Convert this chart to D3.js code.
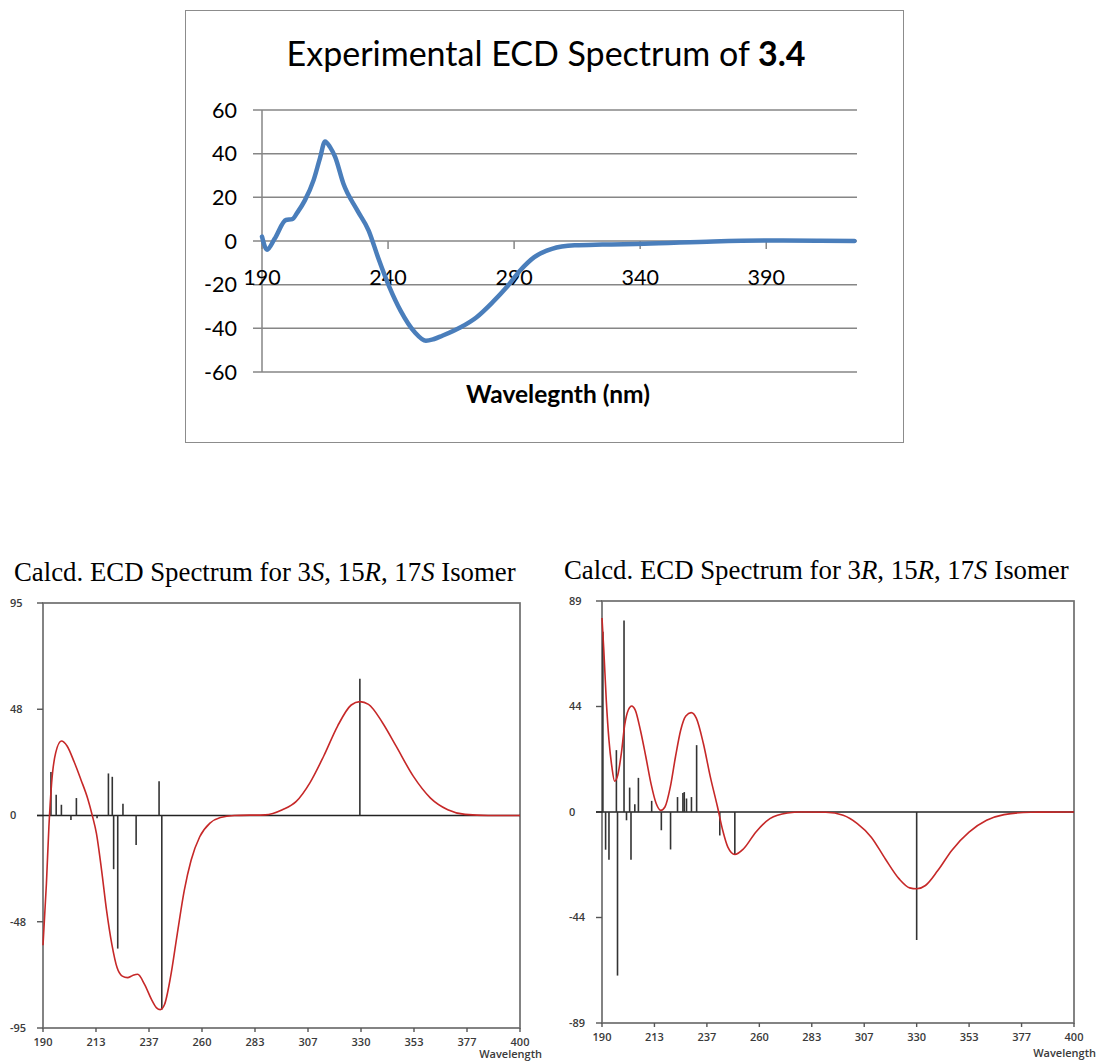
<!DOCTYPE html>
<html>
<head>
<meta charset="utf-8">
<script src="https://cdn.jsdelivr.net/npm/d3@7"></script>
<style>
  body { margin: 0; background: #fff; }
  svg { display: block; }
</style>
</head>
<body>
<svg id="chart" width="1098" height="1061"></svg>
<script>
// experimental spectrum of 3.4
const expWl = [190, 192, 195, 199.5, 202, 204, 207, 210.5, 213, 215, 217, 219, 222.3, 227.8, 232.3, 236, 240.5, 245, 250.6, 255, 258, 261.5, 268.8, 275, 281.5, 287, 292.4, 298, 305, 314, 325, 341.6, 369, 391, 410, 425];
const expCd = [2, -4, 1, 9.6, 10, 13, 18.6, 28, 38, 45.6, 43, 38.5, 26.2, 14, 4.8, -7.4, -21, -32, -41.8, -45.7, -45, -43.4, -39.5, -35, -28, -21.2, -13.5, -7.4, -3.6, -2, -1.6, -1.3, -0.2, 0.2, 0.1, 0];
const expXTicks = [190, 240, 290, 340, 390];
const expYTicks = [-60, -40, -20, 0, 20, 40, 60];

// shared x ticks of the calculated spectra
const calcXTicks = [190, 213.33, 236.67, 260, 283.33, 306.67, 330, 353.33, 376.67, 400];
const calcXLabels = ['190', '213', '237', '260', '283', '307', '330', '353', '377', '400'];

// 3S, 15R, 17S isomer
const isoAWl = [190, 191.5, 192.6, 193.8, 195.6, 198.1, 200.6, 203.7, 206.7, 209.7, 211.7, 213.5, 215.8, 218, 220.3, 222.6, 224.9, 227.2, 229.5, 231.7, 234.7, 237.8, 240, 241.6, 243.5, 246.1, 249.1, 252.2, 255.2, 259, 263.5, 268.1, 274.2, 287.8, 295.4, 301.5, 307.5, 313.6, 319.7, 325.7, 329.5, 333.3, 339.4, 345.4, 353, 360.6, 368.2, 375.8, 386, 400];
const isoACd = [-58, -30.5, -5, 14.6, 28.1, 33.3, 31.1, 24, 16, 7.5, 0, -7.9, -24.5, -42.5, -57.5, -68, -71.8, -72.5, -71.5, -71, -75.5, -82.3, -86, -86.8, -84.5, -72.5, -53, -33.5, -20, -9.5, -3.4, -0.9, 0, 0.3, 2.6, 6.3, 14.6, 26.6, 40, 49.4, 50.9, 49.7, 41.6, 31.1, 17.6, 7.8, 2.6, 0.5, 0, 0];
const isoAStickWl = [193.5, 195.8, 198.1, 202.3, 204.7, 213.8, 218.8, 220.5, 221.1, 222.9, 225.2, 231, 241.1, 242.3, 329.5];
const isoAStickR = [19.5, 9.3, 4.8, -2, 7.8, -1.2, 18.8, 17.3, -24, -59.5, 5.3, -13.2, 15.3, -86.8, 61.1];
const isoAYTicks = [-95, -47.5, 0, 47.5, 95];
const isoAYLabels = ['-95', '-48', '0', '48', '95'];

// 3R, 15R, 17S isomer
const isoBWl = [190, 190.8, 191.9, 193.1, 194.4, 195.6, 197, 198.6, 200.1, 201.7, 203.2, 204.8, 207.1, 209.5, 211.8, 214.1, 216.2, 218, 220.4, 222.7, 225, 227.3, 229.7, 232, 235.1, 238.2, 241.4, 243.7, 246, 249.1, 253, 258.4, 264.7, 272.5, 278.6, 289.6, 297.3, 303.6, 309.8, 316, 322.2, 326.9, 330, 333.9, 339.4, 345.6, 353.3, 361.1, 368.9, 380.8, 400];
const isoBCd = [81.8, 68.4, 47.2, 30.3, 19, 13, 15.5, 24.7, 36.7, 43, 44.7, 43, 34.5, 23.3, 12, 3.6, 0.7, 2.1, 10.6, 23.3, 34.5, 40.5, 41.9, 39.5, 28.9, 14.8, 2.1, -7.7, -14.8, -17.9, -15.5, -8.5, -2.8, -0.4, 0, -0.1, -1.4, -4.9, -10.6, -19.7, -28.2, -32, -32.4, -31, -24.7, -16.2, -8.5, -3.5, -1.1, -0.1, 0];
const isoBStickWl = [190.4, 191.6, 193.1, 196.4, 196.9, 199.8, 200.9, 202.3, 202.9, 204.6, 206.2, 212.1, 216.4, 220.5, 223.6, 226, 226.6, 227.6, 229.8, 232.1, 242.4, 249.1, 330];
const isoBStickR = [76, -15.9, -20.1, 26.1, -69, 80.8, -3.5, 10.3, -20.1, 3.3, 14.4, 4.7, -7.7, -15.8, 6.3, 8, 8.4, 5.7, 6.3, 28.2, -9.9, -17.9, -54];
const isoBYTicks = [-89, -44.5, 0, 44.5, 89];
const isoBYLabels = ['-89', '-44', '0', '44', '89'];

const svg = d3.select('#chart');

// ---------- experimental chart (top) ----------
svg.append('rect')
  .attr('x', 185.5).attr('y', 10.5)
  .attr('width', 718).attr('height', 432)
  .attr('fill', '#fff')
  .attr('stroke', '#8c8c8c')
  .attr('stroke-width', 1);

const ex = d3.scaleLinear().domain([190, 426]).range([262, 857]);
const ey = d3.scaleLinear().domain([-60, 60]).range([372, 110]);
const grid = '#868686';

const expG = svg.append('g');

expG.selectAll('.grid')
  .data(expYTicks)
  .enter()
  .append('line')
  .attr('x1', ex(190) - 9)
  .attr('x2', ex(426))
  .attr('y1', d => ey(d))
  .attr('y2', d => ey(d))
  .attr('stroke', grid)
  .attr('stroke-width', 1.5);

expG.append('line')
  .attr('x1', ex(190)).attr('x2', ex(190))
  .attr('y1', ey(60)).attr('y2', ey(-60))
  .attr('stroke', grid)
  .attr('stroke-width', 1.5);

expG.selectAll('.xtick')
  .data(expXTicks)
  .enter()
  .append('line')
  .attr('x1', d => ex(d)).attr('x2', d => ex(d))
  .attr('y1', ey(0)).attr('y2', ey(0) + 8)
  .attr('stroke', grid)
  .attr('stroke-width', 1.5);

expG.selectAll('.ylab')
  .data(expYTicks)
  .enter()
  .append('text')
  .attr('x', 237)
  .attr('y', d => ey(d))
  .attr('dy', '0.36em')
  .attr('text-anchor', 'end')
  .style('font-family', 'Lato')
  .style('font-size', '21.5px')
  .text(d => d);

expG.selectAll('.xlab')
  .data(expXTicks)
  .enter()
  .append('text')
  .attr('x', d => ex(d))
  .attr('y', 285)
  .attr('text-anchor', 'middle')
  .style('font-family', 'Lato')
  .style('font-size', '21.5px')
  .text(d => d);

const expLine = d3.line()
  .x((d, i) => ex(expWl[i]))
  .y(d => ey(d))
  .curve(d3.curveMonotoneX);

expG.append('path')
  .datum(expCd)
  .attr('d', expLine)
  .attr('fill', 'none')
  .attr('stroke', '#4a7ebb')
  .attr('stroke-width', 4.5)
  .attr('stroke-linecap', 'round')
  .attr('stroke-linejoin', 'round');

const tt = expG.append('text')
  .attr('x', 546)
  .attr('y', 66)
  .attr('text-anchor', 'middle')
  .style('font-family', 'Lato')
  .style('font-size', '34px');
tt.append('tspan').text('Experimental ECD Spectrum of ');
tt.append('tspan').style('font-weight', 'bold').text('3.4');

expG.append('text')
  .attr('x', 558)
  .attr('y', 403)
  .attr('text-anchor', 'middle')
  .style('font-family', 'Lato')
  .style('font-weight', 'bold')
  .style('font-size', '24.5px')
  .text('Wavelegnth (nm)');

// ---------- calculated spectra (bottom) ----------
function calcPanel(opt) {
  const g = svg.append('g');
  const x = d3.scaleLinear().domain([190, 400]).range([opt.x0, opt.x1]);
  const y = d3.scaleLinear().domain([-opt.max, opt.max]).range([opt.y1, opt.y0]);
  const lab = g => g
    .style('font-family', 'Open Sans')
    .style('font-weight', 600)
    .style('font-size', '11px')
    .attr('fill', '#3a3a3a');

  // title
  const t = g.append('text')
    .attr('x', opt.tx)
    .attr('y', opt.ty)
    .style('font-family', 'Liberation Serif')
    .style('font-size', '26.8px');
  opt.title.forEach(p => {
    t.append('tspan').style('font-style', p[1] ? 'italic' : 'normal').text(p[0]);
  });

  // frame
  g.append('rect')
    .attr('x', opt.x0).attr('y', opt.y0)
    .attr('width', opt.x1 - opt.x0).attr('height', opt.y1 - opt.y0)
    .attr('fill', 'none')
    .attr('stroke', '#6e6e6e')
    .attr('stroke-width', 1.7);

  // y ticks
  g.selectAll('.yt')
    .data(opt.yTicks)
    .enter()
    .append('line')
    .attr('x1', opt.x0 - 6).attr('x2', opt.x0)
    .attr('y1', d => y(d)).attr('y2', d => y(d))
    .attr('stroke', '#555')
    .attr('stroke-width', 1.4);

  g.selectAll('.yl')
    .data(opt.yTicks)
    .enter()
    .append('text')
    .attr('x', opt.x0 - 33)
    .attr('y', d => y(d))
    .attr('dy', '0.35em')
    .call(lab)
    .text((d, i) => opt.yLabels[i]);

  // x ticks
  g.selectAll('.xt')
    .data(calcXTicks)
    .enter()
    .append('line')
    .attr('x1', d => x(d)).attr('x2', d => x(d))
    .attr('y1', opt.y1).attr('y2', opt.y1 + 4)
    .attr('stroke', '#555')
    .attr('stroke-width', 1.4);

  g.selectAll('.xl')
    .data(calcXTicks)
    .enter()
    .append('text')
    .attr('x', d => x(d))
    .attr('y', opt.y1 + 18)
    .attr('text-anchor', 'middle')
    .call(lab)
    .text((d, i) => calcXLabels[i]);

  g.append('text')
    .attr('x', opt.x1 + 22)
    .attr('y', opt.ly)
    .attr('text-anchor', 'end')
    .call(lab)
    .text('Wavelength');

  // zero line
  g.append('line')
    .attr('x1', opt.x0 - 6).attr('x2', opt.x1)
    .attr('y1', y(0)).attr('y2', y(0))
    .attr('stroke', '#222')
    .attr('stroke-width', 1.5);

  // rotatory strength sticks
  g.selectAll('.stick')
    .data(opt.stickR)
    .enter()
    .append('line')
    .attr('x1', (d, i) => x(opt.stickWl[i]))
    .attr('x2', (d, i) => x(opt.stickWl[i]))
    .attr('y1', y(0))
    .attr('y2', d => y(d))
    .attr('stroke', '#333')
    .attr('stroke-width', 1.6);

  const line = d3.line()
    .x((d, i) => x(opt.wl[i]))
    .y(d => y(d))
    .curve(d3.curveMonotoneX);

  g.append('path')
    .datum(opt.cd)
    .attr('d', line)
    .attr('fill', 'none')
    .attr('stroke', '#c62828')
    .attr('stroke-width', 1.6);
}

calcPanel({
  x0: 43, x1: 520, y0: 603, y1: 1028, max: 95,
  tx: 14, ty: 581, ly: 1058,
  title: [['Calcd. ECD Spectrum for 3', false], ['S', true], [', 15', false], ['R', true], [', 17', false], ['S', true], [' Isomer', false]],
  yTicks: isoAYTicks, yLabels: isoAYLabels,
  wl: isoAWl, cd: isoACd, stickWl: isoAStickWl, stickR: isoAStickR
});

calcPanel({
  x0: 602, x1: 1074, y0: 601, y1: 1023, max: 89,
  tx: 564, ty: 579, ly: 1057,
  title: [['Calcd. ECD Spectrum for 3', false], ['R', true], [', 15', false], ['R', true], [', 17', false], ['S', true], [' Isomer', false]],
  yTicks: isoBYTicks, yLabels: isoBYLabels,
  wl: isoBWl, cd: isoBCd, stickWl: isoBStickWl, stickR: isoBStickR
});
</script>
</body>
</html>
